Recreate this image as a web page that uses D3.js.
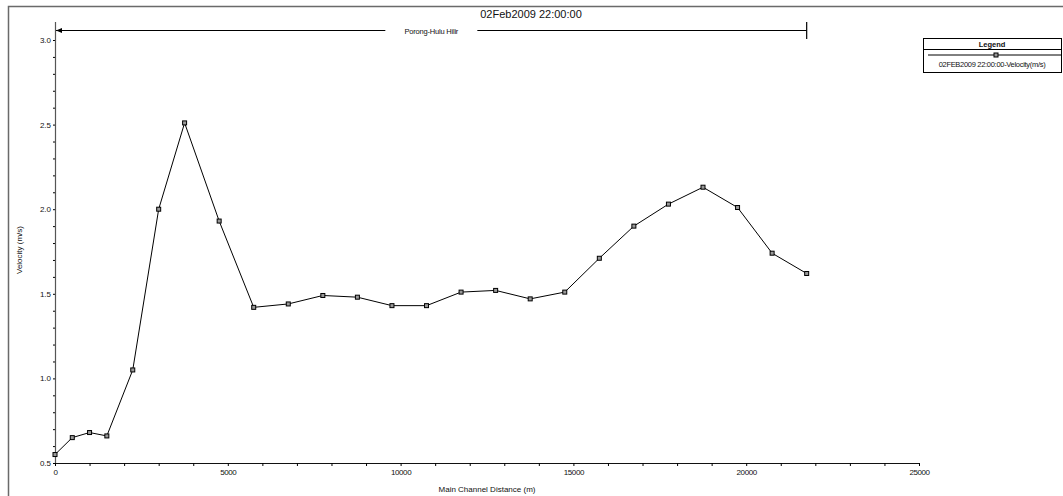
<!DOCTYPE html>
<html>
<head>
<meta charset="utf-8">
<script src="https://cdn.jsdelivr.net/npm/d3@7"></script>
<style>
  html, body { margin: 0; padding: 0; background: #fff; }
  svg { display: block; font-family: "Liberation Sans", Arial, sans-serif; }
</style>
</head>
<body>
<svg id="chart" width="1063" height="496"></svg>
<script>
// ---- data ----
const distances = [0, 500, 1000, 1500, 2250, 3000, 3750, 4750, 5750, 6750, 7750, 8750, 9750, 10750, 11750, 12750, 13750, 14750, 15750, 16750, 17750, 18750, 19750, 20750, 21750];
const velocity  = [0.55, 0.65, 0.68, 0.66, 1.05, 2.00, 2.51, 1.93, 1.42, 1.44, 1.49, 1.48, 1.43, 1.43, 1.51, 1.52, 1.47, 1.51, 1.71, 1.90, 2.03, 2.13, 2.01, 1.74, 1.62];
const xTicks = [0, 5000, 10000, 15000, 20000, 25000];
const yTicks = [0.5, 1.0, 1.5, 2.0, 2.5, 3.0];
const reachName = "Porong-Hulu Hilir";
const reachStart = 0, reachEnd = 21750;
const titleText = "02Feb2009 22:00:00";
const xLabel = "Main Channel Distance (m)";
const yLabel = "Velocity (m/s)";
const legendTitle = "Legend";
const seriesName = "02FEB2009 22:00:00-Velocity(m/s)";

const svg = d3.select("#chart");
const x = d3.scaleLinear().domain([0, 25000]).range([55, 919]);
const y = d3.scaleLinear().domain([0.5, 3.0]).range([463, 40]);

// outer frame
svg.append("path").attr("d", "M8.5,496 L8.5,6.5 L1063,6.5")
  .attr("fill", "none").attr("stroke", "#6a6a6a").attr("stroke-width", 1.5);

// title
svg.append("text").attr("x", 531).attr("y", 18).attr("text-anchor", "middle")
  .attr("font-size", 11).attr("fill", "#111").text(titleText);

// x axis
const xMinor = d3.range(0, 25001, 1000);
const xAxis = d3.axisBottom(x).tickValues(xMinor).tickSize(3).tickSizeOuter(0)
  .tickFormat(d => xTicks.includes(d) ? d3.format("d")(d) : "");
const gx = svg.append("g").attr("transform", "translate(0,463)").call(xAxis);
gx.selectAll("text").attr("font-size", 8).attr("fill", "#111").attr("font-family", "Liberation Sans, Arial, sans-serif").attr("letter-spacing", -0.4);
gx.select(".domain").attr("stroke", "#111");

// y axis
const yMinor = d3.range(5, 31).map(v => v / 10);
const yAxis = d3.axisLeft(y).tickValues(yMinor).tickSize(2).tickSizeOuter(0)
  .tickFormat(d => yTicks.some(t => Math.abs(t - d) < 1e-9) ? d3.format(".1f")(d) : "");
const gy = svg.append("g").attr("transform", "translate(55,0)").call(yAxis);
gy.selectAll("text").attr("font-size", 8).attr("fill", "#111").attr("font-family", "Liberation Sans, Arial, sans-serif").attr("dx", 1);
gy.select(".domain").remove();
svg.append("line").attr("x1", 55.5).attr("x2", 55.5).attr("y1", 22).attr("y2", 463)
  .attr("stroke", "#555").attr("stroke-width", 1.2);

// axis titles
svg.append("text").attr("x", 487).attr("y", 492).attr("text-anchor", "middle")
  .attr("font-size", 8).attr("fill", "#111").text(xLabel);
svg.append("text").attr("transform", "translate(22,250) rotate(-90)").attr("text-anchor", "middle")
  .attr("font-size", 8).attr("fill", "#111").text(yLabel);

// reach indicator
const ry = 30.5;
const xs = x(reachStart) + 1, xe = x(reachEnd);
const labelW = 92, cx = (xs + xe) / 2;
svg.append("line").attr("x1", xs).attr("x2", cx - labelW / 2).attr("y1", ry).attr("y2", ry)
  .attr("stroke", "#000").attr("stroke-width", 1);
svg.append("line").attr("x1", cx + labelW / 2).attr("x2", xe).attr("y1", ry).attr("y2", ry)
  .attr("stroke", "#000").attr("stroke-width", 1);
svg.append("path").attr("d", `M${xs},${ry} L${xs + 6},${ry - 2.5} L${xs + 6},${ry + 2.5} Z`).attr("fill", "#000");
svg.append("line").attr("x1", xe).attr("x2", xe).attr("y1", 22).attr("y2", 39)
  .attr("stroke", "#000").attr("stroke-width", 1.2);
svg.append("text").attr("x", cx).attr("y", ry + 3).attr("text-anchor", "middle")
  .attr("font-size", 7.5).attr("fill", "#111").attr("letter-spacing", -0.2).text(reachName);

// series
const pts = distances.map((d, i) => [d, velocity[i]]);
svg.append("path").datum(pts)
  .attr("d", d3.line().x(d => x(d[0])).y(d => y(d[1])))
  .attr("fill", "none").attr("stroke", "#000").attr("stroke-width", 1);
svg.append("g").selectAll("rect").data(pts).join("rect")
  .attr("x", d => x(d[0]) - 2).attr("y", d => y(d[1]) - 2)
  .attr("width", 4).attr("height", 4)
  .attr("fill", "#999").attr("stroke", "#000").attr("stroke-width", 1);

// legend
const lg = svg.append("g");
lg.append("rect").attr("x", 923.5).attr("y", 38.5).attr("width", 138).attr("height", 34)
  .attr("fill", "#fff").attr("stroke", "#000").attr("stroke-width", 1);
lg.append("line").attr("x1", 923.5).attr("x2", 1061.5).attr("y1", 49.5).attr("y2", 49.5)
  .attr("stroke", "#000").attr("stroke-width", 1);
lg.append("text").attr("x", 992).attr("y", 47).attr("text-anchor", "middle")
  .attr("font-size", 7.5).attr("font-weight", "bold").attr("fill", "#111").text(legendTitle);
lg.append("line").attr("x1", 928).attr("x2", 1061).attr("y1", 55).attr("y2", 55)
  .attr("stroke", "#000").attr("stroke-width", 1);
lg.append("rect").attr("x", 994).attr("y", 53).attr("width", 4).attr("height", 4)
  .attr("fill", "#999").attr("stroke", "#000").attr("stroke-width", 1);
lg.append("text").attr("x", 992).attr("y", 67).attr("text-anchor", "middle")
  .attr("font-size", 7.5).attr("fill", "#111").attr("letter-spacing", -0.3).text(seriesName);
</script>
</body>
</html>
